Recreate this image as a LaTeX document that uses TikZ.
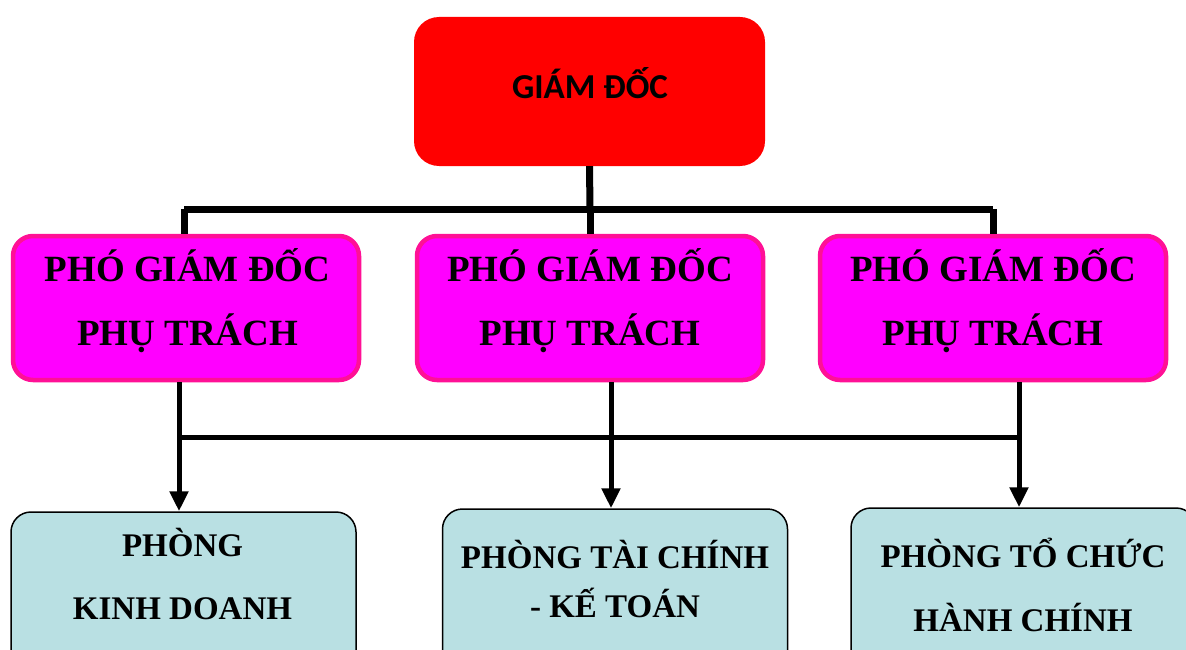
\documentclass[tikz,border=0pt]{standalone}
\usepackage{fontspec}
\setmainfont{Liberation Serif}
\newfontfamily\topfont{Carlito}
\usetikzlibrary{arrows.meta,calc}
\definecolor{gdred}{RGB}{255,0,0}
\definecolor{pgdfill}{RGB}{255,0,255}
\definecolor{pgdline}{RGB}{255,16,150}
\definecolor{phfill}{RGB}{185,224,227}
\tikzset{
  gdbox/.style={fill=gdred, rounded corners=25pt, minimum width=351pt, minimum height=149pt, inner sep=0pt},
  pgdbox/.style={fill=pgdfill, draw=pgdline, line width=4.5pt, rounded corners=20pt, minimum width=346pt, minimum height=144pt, inner sep=0pt},
  phbox/.style={fill=phfill, draw=black, line width=1.5pt, rounded corners=20pt, minimum width=345pt, minimum height=200pt, inner sep=0pt},
  toptxt/.style={anchor=base, font=\topfont\bfseries\fontsize{35}{40}\selectfont, inner sep=0pt},
  midtxt/.style={anchor=base, font=\bfseries\fontsize{37}{42}\selectfont, inner sep=0pt},
  bottxt/.style={anchor=base, font=\bfseries\fontsize{33}{38}\selectfont, inner sep=0pt},
  busA/.style={line width=7pt},
  busB/.style={line width=5pt},
  arr/.style={line width=5pt, -{Triangle[width=18pt,length=20pt]}},
}
\begin{document}
\begin{tikzpicture}[x=1pt,y=-1pt]
\useasboundingbox (0,0) rectangle (1186,650);
\clip (0,0) rectangle (1186,650);
% boxes
\node[gdbox] (gd) at (589.5,91.5) {};
\node[pgdbox] (m1) at (186,308) {};
\node[pgdbox] (m2) at (590,308) {};
\node[pgdbox] (m3) at (993,308) {};
\node[phbox] (b1) at (183.5,612) {};
\node[phbox] (b2) at (615,609) {};
\node[phbox] (b3) at (1023.5,608) {};
% texts
\node[toptxt] (tgd) at (590,99) {GIÁM ĐỐC};
\node[midtxt] (t1a) at (187.5,281) {PHÓ GIÁM ĐỐC};
\node[midtxt] (t1b) at (187.5,345) {PHỤ TRÁCH};
\node[midtxt] (t2a) at (590,281) {PHÓ GIÁM ĐỐC};
\node[midtxt] (t2b) at (590,345) {PHỤ TRÁCH};
\node[midtxt] (t3a) at (993,281) {PHÓ GIÁM ĐỐC};
\node[midtxt] (t3b) at (993,345) {PHỤ TRÁCH};
\node[bottxt] (u1a) at (182.5,556) {PHÒNG};
\node[bottxt] (u1b) at (182.5,619) {KINH DOANH};
\node[bottxt] (u2a) at (615,568) {PHÒNG TÀI CHÍNH};
\node[bottxt] (u2b) at (615,617) {- KẾ TOÁN};
\node[bottxt] (u3a) at (1023,567) {PHÒNG TỔ CHỨC};
\node[bottxt] (u3b) at (1023,631) {HÀNH CHÍNH};
% upper connectors
\coordinate (top) at (590,209);
\coordinate (k1) at (184,209);
\coordinate (k3) at (993,209);
\draw[busA] (gd.south) -- (top);
\draw[busA] (k1) -- (k3);
\draw[busA] (k1) -- (k1 |- m1.north);
\draw[busA] (top) -- (m2.north);
\draw[busA] (k3) -- (m3.north);
% lower connectors
\coordinate (j1) at (179,437);
\coordinate (j2) at (611,437);
\coordinate (j3) at (1019,437);
\draw[busB] (j1 |- m1.south) -- (j1);
\draw[busB] (j2 |- m2.south) -- (j2);
\draw[busB] (j3 |- m3.south) -- (j3);
\draw[busB] (j1) -- (j3);
\draw[arr] (j1) -- (j1 |- b1.north);
\draw[arr] (j2) -- (j2 |- b2.north);
\draw[arr] (j3) -- (j3 |- b3.north);
\end{tikzpicture}
\end{document}
